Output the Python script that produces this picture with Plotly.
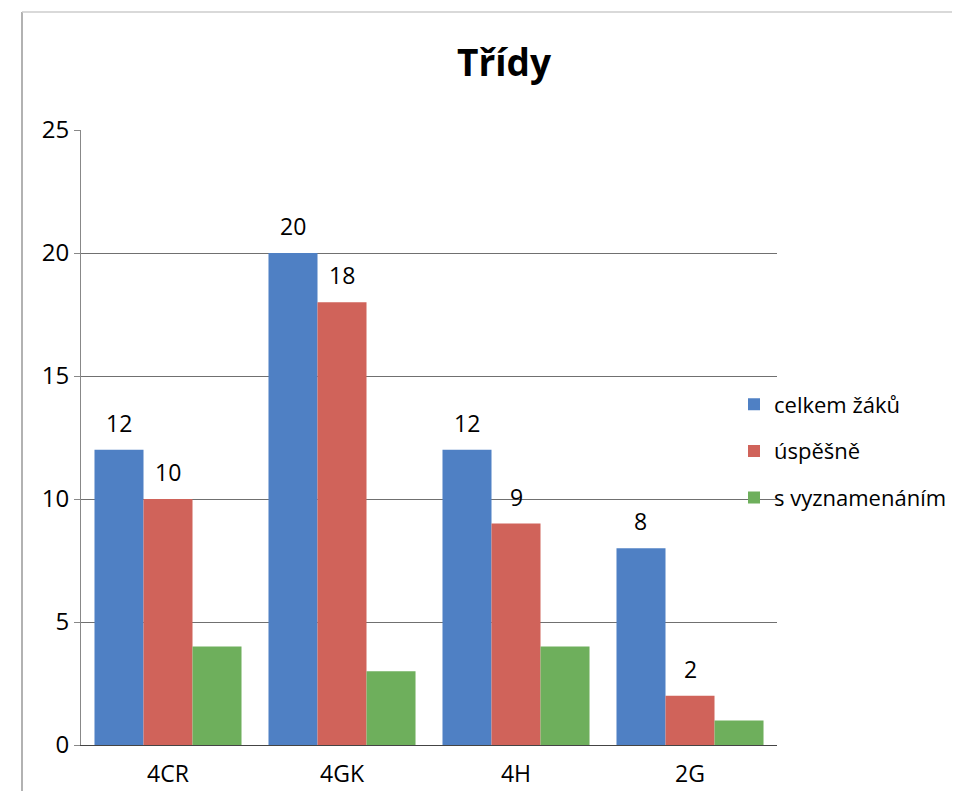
import plotly.graph_objects as go

categories = ["4CR", "4GK", "4H", "2G"]
celkem = [12, 20, 12, 8]
uspesne = [10, 18, 9, 2]
vyznamenani = [4, 3, 4, 1]
series_names = ["celkem žáků", "úspěšně", "s vyznamenáním"]
colors = ["#4F80C4", "#D0635A", "#6EAF5C"]
y_ticks = [0, 5, 10, 15, 20, 25]

FONT = "Open Sans"
W, H = 944, 783          # page has 8px body margin
L, R, T, B = 73, 175, 122, 46
pw, ph = W - L - R, H - T - B
BARGAP = 0.155
bar_w = pw / len(categories) * (1 - BARGAP) / 3

all_vals = [celkem, uspesne, vyznamenani]
fig = go.Figure()
for i, (name, vals, col) in enumerate(zip(series_names, all_vals, colors)):
    fig.add_trace(go.Bar(
        x=categories, y=vals, name=name, marker_color=col, marker_line_width=0,
        legendgroup=name,
    ))

# data labels for the first two series
for i in range(2):
    for c, v in zip(categories, all_vals[i]):
        fig.add_annotation(x=c, y=v, xref="x", yref="y", text=str(v), showarrow=False,
                           xshift=(i - 1) * bar_w, yshift=27, yanchor="middle",
                           font=dict(size=23, family=FONT, color="black"))

fig.update_layout(
    width=W, height=H,
    margin=dict(l=L, r=R, t=T, b=B, autoexpand=False),
    paper_bgcolor="white", plot_bgcolor="white",
    barmode="group", bargap=BARGAP, bargroupgap=0,
    font=dict(family=FONT, color="black"),
    title=dict(text="<b>Třídy</b>", x=496 / W, xanchor="center", y=1 - 55 / H, yanchor="middle",
               font=dict(size=37, family=FONT, color="black")),
    legend=dict(x=(726 - L) / pw, y=(H - B - 443) / ph, xanchor="left", yanchor="middle",
                font=dict(size=22, family=FONT, color="black"),
                traceorder="grouped", tracegroupgap=15, itemwidth=30,
                bgcolor="rgba(0,0,0,0)"),
    showlegend=True,
)
fig.update_xaxes(showline=True, linecolor="#444", linewidth=1, ticks="", ticklabelstandoff=8,
                 tickfont=dict(size=23, family=FONT, color="black"), showgrid=False,
                 automargin=False)
fig.update_yaxes(range=[0, 25], tickvals=y_ticks, showgrid=True, gridcolor="#707070", gridwidth=1,
                 showline=True, linecolor="#888", linewidth=1, ticks="outside", ticklen=6,
                 tickcolor="#888", tickfont=dict(size=24, family=FONT, color="black"),
                 zeroline=False, automargin=False)

fx = lambda px: (px - L) / pw
fy = lambda py: (H - B - py) / ph
fig.add_shape(type="line", xref="paper", yref="paper", x0=fx(14), x1=fx(14), y0=fy(4), y1=fy(H),
              line=dict(color="#999", width=1.5))
fig.add_shape(type="line", xref="paper", yref="paper", x0=fx(14), x1=fx(W), y0=fy(4), y1=fy(4),
              line=dict(color="#ccc", width=1.5))

fig.write_html("out.html")
